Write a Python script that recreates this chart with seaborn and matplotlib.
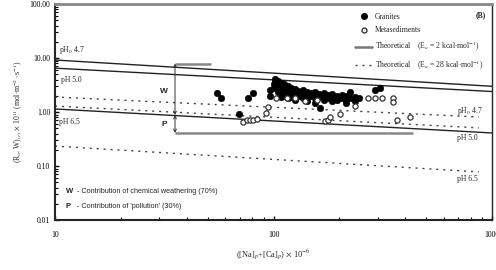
import pandas as pd
import matplotlib.pyplot as plt
import seaborn as sns
from matplotlib.lines import Line2D

# Theoretical lines (end points)
theo_x = [10, 1000]
theo_x_dot = [10, 870]
solid_ph47 = [9.2, 3.0]
solid_ph50 = [6.5, 2.4]
solid_ph65 = [1.14, 0.41]
dot_ph47 = [1.9, 0.81]
dot_ph50 = [1.29, 0.51]
dot_ph65 = [0.234, 0.078]

# Granites (filled)
gran_x = [55, 57.5, 76, 80.5, 69.5, 163,
          96, 96, 100, 100, 102, 102, 105, 105, 105, 108, 108, 108, 108,
          112, 112, 112, 116, 116, 116, 120, 120, 120, 125, 125, 125,
          130, 130, 136, 136, 136, 142, 142, 142, 148, 148, 155, 155, 155,
          162, 162, 170, 170, 170, 178, 178, 186, 186, 186, 195, 195,
          205, 205, 215, 215, 215, 225, 225, 235, 235, 245, 291, 307]
gran_y = [2.25, 1.82, 1.82, 2.25, 0.92, 1.19,
          2.55, 2.0, 3.3, 2.8, 4.1, 3.6, 3.8, 3.1, 2.4, 3.5, 2.9, 2.2, 1.9,
          3.3, 2.6, 2.0, 3.0, 2.4, 1.8, 2.8, 2.3, 1.9, 2.7, 2.1, 1.7,
          2.5, 2.0, 2.6, 2.2, 1.8, 2.4, 1.9, 1.6, 2.3, 2.0, 2.4, 1.8, 1.5,
          2.2, 1.9, 2.3, 2.0, 1.7, 2.1, 1.8, 2.2, 1.9, 1.6, 2.0, 1.7,
          2.1, 1.8, 2.0, 1.7, 1.5, 2.4, 1.8, 1.9, 1.6, 1.8, 2.55, 2.78]

# Metasediments (open)
meta_x = [72.4, 75.6, 78, 80.5, 84, 92.5, 94, 103, 115, 125, 140, 158,
          172, 178, 181, 201, 236, 271, 291, 315, 352, 352, 367, 421]
meta_y = [0.65, 0.71, 0.71, 0.71, 0.75, 0.96, 1.23, 1.8, 1.82, 1.82, 1.6, 1.7,
          0.68, 0.71, 0.81, 0.93, 1.29, 1.82, 1.82, 1.82, 1.82, 1.53, 0.71, 0.81]

sns.set_style("ticks")
plt.rcParams['font.family'] = ['Liberation Serif', 'DejaVu Serif']
plt.rcParams['mathtext.fontset'] = 'stix'

fig = plt.figure(figsize=(4.96, 2.70), dpi=100)
ax = fig.add_axes([0.111, 0.185, 0.881, 0.80])
ax.set_xscale('log')
ax.set_yscale('log')

# theoretical lines
for ys in [solid_ph47, solid_ph50, solid_ph65]:
    sns.lineplot(x=theo_x, y=ys, ax=ax, color='#222222', lw=1.0)
for ys in [dot_ph47, dot_ph50, dot_ph65]:
    sns.lineplot(x=theo_x_dot, y=ys, ax=ax, color='#444444', lw=1.0,
                 linestyle=(0, (1.5, 3.5)))

# gray overlay segments seen in the original figure
ax.hlines(7.9, 35.4, 52, color='#888888', lw=1.8)
ax.hlines(0.41, 35.4, 437, color='#888888', lw=1.8)

# data points
gran = pd.DataFrame({'x': gran_x, 'y': gran_y})
meta = pd.DataFrame({'x': meta_x, 'y': meta_y})
sns.scatterplot(data=gran, x='x', y='y', ax=ax, color='black', s=22,
                edgecolor='black', linewidth=0.4, zorder=4)
sns.scatterplot(data=meta, x='x', y='y', ax=ax, facecolor='white', s=14,
                edgecolor='#333333', linewidth=0.9, zorder=5)

# W / P arrows
ax.annotate('', xy=(35.4, 7.9), xytext=(35.4, 0.88),
            arrowprops=dict(arrowstyle='<->', lw=0.7, color='#333333',
                            mutation_scale=5, shrinkA=0, shrinkB=0))
ax.annotate('', xy=(35.4, 0.88), xytext=(35.4, 0.41),
            arrowprops=dict(arrowstyle='<->', lw=0.7, color='#333333',
                            mutation_scale=5, shrinkA=0, shrinkB=0))
ax.text(31.5, 2.4, 'W', fontsize=6, fontweight='bold', family='Liberation Sans',
        ha='center', va='center')
ax.text(31.5, 0.6, 'P', fontsize=6, fontweight='bold', family='Liberation Sans',
        ha='center', va='center')

# pH labels
ax.text(10.4, 11.0, r'pH$_0$ 4.7', fontsize=5.5, va='bottom')
ax.text(10.6, 3.9, 'pH 5.0', fontsize=5.5, va='center')
ax.text(10.4, 0.65, 'pH 6.5', fontsize=5.5, va='center')
ax.text(690, 1.05, r'pH$_0$ 4.7', fontsize=5.5, va='center')
ax.text(690, 0.33, 'pH 5.0', fontsize=5.5, va='center')
ax.text(690, 0.058, 'pH 6.5', fontsize=5.5, va='center')

# notes
ax.text(11.2, 0.034, 'W', fontsize=5.5, fontweight='bold',
        family='Liberation Sans', va='center')
ax.text(12.6, 0.034, '- Contribution of chemical weathering (70%)',
        fontsize=5.2, family='Liberation Sans', va='center')
ax.text(11.2, 0.018, 'P', fontsize=5.5, fontweight='bold',
        family='Liberation Sans', va='center')
ax.text(12.6, 0.018, "- Contribution of 'pollution' (30%)",
        fontsize=5.2, family='Liberation Sans', va='center')
ax.text(0.985, 0.965, '(B)', transform=ax.transAxes, fontsize=5.5,
        fontweight='bold', ha='right', va='top')

# legend
handles = [Line2D([], [], marker='o', ls='', color='black', markersize=4),
           Line2D([], [], marker='o', ls='', mfc='white', mec='#333333',
                  markersize=3.5, mew=1),
           Line2D([], [], color='#777777', lw=1.8),
           Line2D([], [], color='#444444', lw=1.0, linestyle=(0, (1.5, 3.5)))]
labels = ['Granites', 'Metasediments',
          r'Theoretical    (E$_a$ = 2 kcal$\cdot$mol$^{-1}$)',
          r'Theoretical    (E$_a$ = 28 kcal$\cdot$mol$^{-1}$)']
ax.legend(handles, labels, loc='upper left', bbox_to_anchor=(0.675, 0.985),
          frameon=False, fontsize=5.5, handlelength=2.2, labelspacing=0.75,
          borderpad=0.2, handletextpad=0.4)

ax.set_xlim(10, 1000)
ax.set_ylim(0.01, 100)
ax.set_xticks([10, 100, 1000])
ax.set_xticklabels(['10', '100', '1000'])
ax.set_yticks([0.01, 0.1, 1, 10, 100])
ax.set_yticklabels(['0.01', '0.10', '1.00', '10.00', '100.00'])
ax.tick_params(which='both', direction='in', labelsize=5.5, colors='black')
ax.tick_params(which='major', length=3, width=1)
ax.tick_params(which='minor', length=2, width=0.8)
ax.tick_params(axis='x', pad=8)

ax.set_xlabel(r'([Na]$_p$+[Ca]$_p$) $\times$ 10$^{-6}$', fontsize=6, labelpad=6)
ax.set_ylabel(r'(R$_o$. W)$_{(r)}$ $\times$ 10$^{11}$ (mol$\cdot$m$^{-2}\cdot$s$^{-1}$)',
              fontsize=5.5, labelpad=4)

for side in ['left', 'bottom']:
    ax.spines[side].set_linewidth(1.5)
ax.spines['right'].set_linewidth(1.0)
ax.spines['top'].set_linewidth(2.0)
ax.spines['top'].set_color('#888888')

plt.savefig('out.png', dpi=100)
